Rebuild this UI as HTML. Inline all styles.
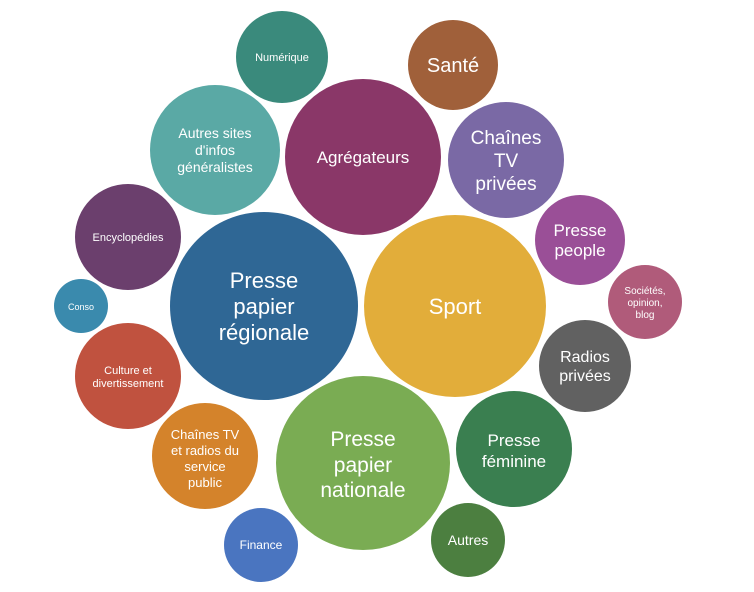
<!DOCTYPE html>
<html><head><meta charset="utf-8"><style>
html,body{margin:0;padding:0;background:#fff;}
svg text{font-family:"Liberation Sans","DejaVu Sans",sans-serif;fill:#fff;text-anchor:middle;}
</style></head><body>
<svg width="754" height="587" viewBox="0 0 754 587" xmlns="http://www.w3.org/2000/svg">
<circle cx="282" cy="57" r="46" fill="#3a8a7c"/>
<text x="282" y="61" font-size="11">Numérique</text>
<circle cx="453" cy="65" r="45" fill="#a0603a"/>
<text x="453" y="72" font-size="20">Santé</text>
<circle cx="215" cy="150" r="65" fill="#5aa9a5"/>
<text x="215" y="138" font-size="14">Autres sites</text>
<text x="215" y="155" font-size="14">d'infos</text>
<text x="215" y="172" font-size="14">généralistes</text>
<circle cx="363" cy="157" r="78" fill="#8a3768"/>
<text x="363" y="163" font-size="17">Agrégateurs</text>
<circle cx="506" cy="160" r="58" fill="#7a69a5"/>
<text x="506" y="144" font-size="19">Chaînes</text>
<text x="506" y="167" font-size="19">TV</text>
<text x="506" y="190" font-size="19">privées</text>
<circle cx="128" cy="237" r="53" fill="#6b3f6d"/>
<text x="128" y="241" font-size="11">Encyclopédies</text>
<circle cx="580" cy="240" r="45" fill="#9a4f97"/>
<text x="580" y="236" font-size="17">Presse</text>
<text x="580" y="256" font-size="17">people</text>
<circle cx="645" cy="302" r="37" fill="#b05b7a"/>
<text x="645" y="294" font-size="10">Sociétés,</text>
<text x="645" y="306" font-size="10">opinion,</text>
<text x="645" y="318" font-size="10">blog</text>
<circle cx="264" cy="306" r="94" fill="#2f6795"/>
<text x="264" y="288" font-size="22">Presse</text>
<text x="264" y="314" font-size="22">papier</text>
<text x="264" y="340" font-size="22">régionale</text>
<circle cx="455" cy="306" r="91" fill="#e2ad3a"/>
<text x="455" y="314" font-size="22">Sport</text>
<circle cx="81" cy="306" r="27" fill="#3a8aad"/>
<text x="81" y="310" font-size="9">Conso</text>
<circle cx="585" cy="366" r="46" fill="#616161"/>
<text x="585" y="362" font-size="16">Radios</text>
<text x="585" y="381" font-size="16">privées</text>
<circle cx="128" cy="376" r="53" fill="#c0523f"/>
<text x="128" y="374" font-size="11">Culture et</text>
<text x="128" y="387" font-size="11">divertissement</text>
<circle cx="205" cy="456" r="53" fill="#d4832b"/>
<text x="205" y="439" font-size="13">Chaînes TV</text>
<text x="205" y="455" font-size="13">et radios du</text>
<text x="205" y="471" font-size="13">service</text>
<text x="205" y="487" font-size="13">public</text>
<circle cx="363" cy="463" r="87" fill="#7aac53"/>
<text x="363" y="446" font-size="21">Presse</text>
<text x="363" y="472" font-size="21">papier</text>
<text x="363" y="497" font-size="21">nationale</text>
<circle cx="514" cy="449" r="58" fill="#3a7f50"/>
<text x="514" y="446" font-size="17">Presse</text>
<text x="514" y="467" font-size="17">féminine</text>
<circle cx="261" cy="545" r="37" fill="#4a75c0"/>
<text x="261" y="549" font-size="12">Finance</text>
<circle cx="468" cy="540" r="37" fill="#4c7f40"/>
<text x="468" y="545" font-size="14">Autres</text>
</svg>
</body></html>
